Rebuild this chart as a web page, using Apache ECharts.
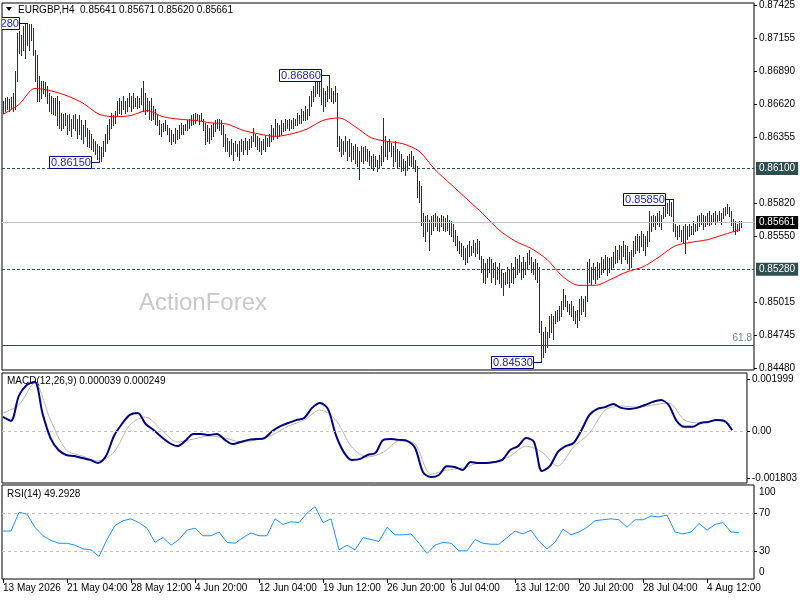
<!DOCTYPE html>
<html><head><meta charset="utf-8">
<script src="https://cdn.jsdelivr.net/npm/echarts@6/dist/echarts.min.js"></script>
<style>html,body{margin:0;padding:0;background:#fff}#c{width:800px;height:600px}</style>
</head><body><div id="c"></div>
<script>
const symbolName = 'EURGBP,H4';
const lastOHLC = ['0.85641', '0.85671', '0.85620', '0.85661'];
const macdHeader = ['0.000039', '0.000249'];
const rsiHeader = '49.2928';

// H4 bars: high / low per bar
const highs = [
0.8665,0.8667,0.8668,0.8666,0.8668,0.8671,0.8689,0.8720,0.8722,0.8718,
0.8726,0.8727,0.8728,0.8727,0.8727,0.8724,0.8706,0.8702,0.8685,0.8681,
0.8681,0.8680,0.8677,0.8671,0.8669,0.8667,0.8667,0.8669,0.8665,0.8655,
0.8654,0.8655,0.8653,0.8654,0.8650,0.8653,0.8654,0.8650,0.8653,0.8649,
0.8645,0.8649,0.8643,0.8641,0.8638,0.8634,0.8632,0.8630,0.8628,0.8627,
0.8632,0.8638,0.8645,0.8650,0.8655,0.8653,0.8657,0.8665,0.8667,0.8665,
0.8669,0.8665,0.8667,0.8671,0.8669,0.8671,0.8667,0.8669,0.8667,0.8675,
0.8681,0.8671,0.8667,0.8665,0.8667,0.8661,0.8658,0.8653,0.8649,0.8646,
0.8647,0.8649,0.8645,0.8643,0.8641,0.8638,0.8643,0.8641,0.8645,0.8647,
0.8645,0.8646,0.8649,0.8650,0.8653,0.8654,0.8655,0.8654,0.8653,0.8655,
0.8650,0.8647,0.8645,0.8643,0.8645,0.8647,0.8649,0.8650,0.8650,0.8649,
0.8645,0.8638,0.8635,0.8632,0.8634,0.8631,0.8632,0.8630,0.8632,0.8634,
0.8632,0.8635,0.8632,0.8634,0.8636,0.8643,0.8638,0.8636,0.8635,0.8632,
0.8634,0.8636,0.8635,0.8638,0.8645,0.8643,0.8650,0.8647,0.8645,0.8649,
0.8647,0.8650,0.8649,0.8650,0.8649,0.8651,0.8650,0.8655,0.8653,0.8658,
0.8657,0.8661,0.8658,0.8669,0.8673,0.8677,0.8681,0.8684,0.8685,0.8681,
0.8675,0.8673,0.8677,0.8686,0.8675,0.8673,0.8677,0.8671,0.8636,0.8634,
0.8632,0.8636,0.8632,0.8634,0.8631,0.8628,0.8630,0.8627,0.8624,0.8628,
0.8627,0.8628,0.8626,0.8624,0.8620,0.8622,0.8620,0.8617,0.8621,0.8628,
0.8651,0.8636,0.8632,0.8634,0.8631,0.8628,0.8632,0.8626,0.8624,0.8622,
0.8618,0.8616,0.8620,0.8622,0.8624,0.8620,0.8617,0.8612,0.8600,0.8596,
0.8574,0.8571,0.8572,0.8568,0.8571,0.8572,0.8574,0.8571,0.8570,0.8572,
0.8571,0.8570,0.8572,0.8568,0.8567,0.8565,0.8560,0.8555,0.8551,0.8549,
0.8547,0.8545,0.8548,0.8551,0.8547,0.8552,0.8549,0.8553,0.8551,0.8539,
0.8536,0.8533,0.8536,0.8538,0.8536,0.8533,0.8534,0.8530,0.8533,0.8528,
0.8525,0.8526,0.8530,0.8528,0.8533,0.8530,0.8538,0.8536,0.8540,0.8534,
0.8538,0.8534,0.8541,0.8544,0.8538,0.8534,0.8536,0.8533,0.8530,0.8486,
0.8477,0.8481,0.8477,0.8490,0.8492,0.8490,0.8494,0.8495,0.8498,0.8502,
0.8512,0.8507,0.8502,0.8500,0.8502,0.8498,0.8494,0.8495,0.8504,0.8506,
0.8504,0.8506,0.8534,0.8536,0.8530,0.8533,0.8530,0.8534,0.8533,0.8538,
0.8536,0.8540,0.8538,0.8537,0.8538,0.8542,0.8547,0.8544,0.8548,0.8547,
0.8551,0.8548,0.8547,0.8542,0.8544,0.8551,0.8555,0.8557,0.8555,0.8559,
0.8557,0.8555,0.8559,0.8575,0.8571,0.8572,0.8571,0.8574,0.8575,0.8572,
0.8579,0.8583,0.8582,0.8584,0.8583,0.8585,0.8565,0.8563,0.8564,0.8560,
0.8563,0.8565,0.8563,0.8565,0.8563,0.8567,0.8565,0.8571,0.8572,0.8574,
0.8572,0.8571,0.8574,0.8575,0.8572,0.8574,0.8575,0.8572,0.8575,0.8574,
0.8578,0.8579,0.8581,0.8579,0.8575,0.8569,0.8567,0.8565,0.8567,0.85671
];
const lows = [
0.8655,0.8657,0.8658,0.8657,0.8659,0.8657,0.8658,0.8681,0.8704,0.8702,
0.8706,0.8700,0.8710,0.8706,0.8714,0.8702,0.8681,0.8665,0.8665,0.8667,
0.8671,0.8669,0.8663,0.8657,0.8655,0.8654,0.8653,0.8645,0.8643,0.8641,
0.8643,0.8645,0.8638,0.8641,0.8636,0.8643,0.8641,0.8635,0.8638,0.8634,
0.8631,0.8636,0.8628,0.8627,0.8626,0.8624,0.8622,0.8618,0.8615,0.8616,
0.8620,0.8624,0.8631,0.8634,0.8643,0.8645,0.8647,0.8653,0.8655,0.8654,
0.8658,0.8655,0.8657,0.8661,0.8657,0.8659,0.8661,0.8659,0.8660,0.8662,
0.8657,0.8654,0.8657,0.8650,0.8649,0.8650,0.8646,0.8645,0.8638,0.8636,
0.8640,0.8641,0.8638,0.8632,0.8630,0.8632,0.8631,0.8634,0.8635,0.8638,
0.8638,0.8641,0.8641,0.8643,0.8645,0.8646,0.8647,0.8649,0.8646,0.8649,
0.8641,0.8630,0.8632,0.8631,0.8634,0.8636,0.8640,0.8643,0.8641,0.8638,
0.8628,0.8624,0.8624,0.8620,0.8622,0.8617,0.8624,0.8620,0.8617,0.8624,
0.8622,0.8626,0.8622,0.8626,0.8627,0.8632,0.8628,0.8626,0.8624,0.8622,
0.8626,0.8624,0.8628,0.8628,0.8632,0.8634,0.8636,0.8635,0.8636,0.8638,
0.8640,0.8641,0.8643,0.8641,0.8643,0.8643,0.8645,0.8645,0.8647,0.8647,
0.8649,0.8649,0.8650,0.8653,0.8661,0.8665,0.8669,0.8671,0.8669,0.8662,
0.8657,0.8661,0.8665,0.8667,0.8665,0.8663,0.8665,0.8628,0.8624,0.8620,
0.8622,0.8624,0.8617,0.8620,0.8616,0.8618,0.8614,0.8612,0.8601,0.8616,
0.8614,0.8617,0.8616,0.8613,0.8610,0.8609,0.8612,0.8608,0.8610,0.8613,
0.8616,0.8620,0.8618,0.8624,0.8620,0.8612,0.8616,0.8610,0.8612,0.8608,
0.8609,0.8605,0.8609,0.8613,0.8612,0.8610,0.8608,0.8587,0.8583,0.8564,
0.8555,0.8551,0.8559,0.8544,0.8557,0.8560,0.8563,0.8560,0.8559,0.8563,
0.8560,0.8559,0.8560,0.8557,0.8555,0.8551,0.8548,0.8544,0.8541,0.8539,
0.8536,0.8532,0.8534,0.8539,0.8540,0.8542,0.8539,0.8541,0.8536,0.8526,
0.8518,0.8517,0.8522,0.8526,0.8518,0.8522,0.8516,0.8520,0.8517,0.8514,
0.8507,0.8516,0.8517,0.8514,0.8518,0.8517,0.8522,0.8524,0.8526,0.8520,
0.8522,0.8524,0.8528,0.8532,0.8526,0.8524,0.8520,0.8518,0.8477,0.8453,
0.8457,0.8461,0.8465,0.8473,0.8477,0.8471,0.8484,0.8486,0.8487,0.8490,
0.8496,0.8498,0.8494,0.8492,0.8490,0.8487,0.8484,0.8481,0.8487,0.8492,
0.8494,0.8490,0.8502,0.8518,0.8516,0.8520,0.8517,0.8520,0.8522,0.8524,
0.8526,0.8528,0.8523,0.8526,0.8528,0.8530,0.8533,0.8534,0.8536,0.8533,
0.8539,0.8536,0.8533,0.8528,0.8530,0.8539,0.8541,0.8544,0.8542,0.8547,
0.8544,0.8540,0.8547,0.8551,0.8559,0.8563,0.8561,0.8565,0.8563,0.8561,
0.8570,0.8571,0.8574,0.8572,0.8571,0.8559,0.8555,0.8553,0.8555,0.8551,
0.8549,0.8541,0.8553,0.8555,0.8557,0.8557,0.8559,0.8560,0.8563,0.8565,
0.8561,0.8563,0.8565,0.8564,0.8565,0.8567,0.8565,0.8567,0.8568,0.8565,
0.8570,0.8572,0.8574,0.8571,0.8564,0.8559,0.8557,0.8559,0.8560,0.8562
];

// moving average, read every 8 bars
const maEvery = 8;
const maValues = [
0.8654,0.8662,0.8675,0.8673,0.8669,0.8663,0.8654,0.8652,0.8653,0.8657,
0.8652,0.8650,0.8649,0.8647,0.8646,0.8641,0.8638,0.8636,0.8638,0.8642,
0.8649,0.8651,0.8644,0.8635,0.8632,0.8630,0.8624,0.8609,0.8597,0.8585,
0.8573,0.8560,0.8551,0.8545,0.8536,0.8522,0.8515,0.8515,0.8520,0.8526,
0.8530,0.8538,0.8547,0.8550,0.8552,0.8556,0.8560
];

// MACD main, read every 4 bars
const macdEvery = 4;
const macdMain = [
0.00055,0.00040,0.00136,0.00178,0.00190,0.00067,-0.00026,-0.00072,-0.00091,-0.00095,
-0.00103,-0.00110,-0.00122,-0.00095,-0.00018,0.00028,0.00063,0.00070,0.00028,0.00005,
-0.00022,-0.00045,-0.00057,-0.00037,-0.00010,-0.00010,-0.00014,-0.00010,-0.00033,-0.00049,
-0.00041,-0.00033,-0.00030,-0.00026,0.00001,0.00020,0.00032,0.00043,0.00051,0.00090,
0.00109,0.00086,-0.00014,-0.00080,-0.00110,-0.00107,-0.00091,-0.00083,-0.00033,-0.00030,
-0.00033,-0.00037,-0.00064,-0.00157,-0.00176,-0.00168,-0.00134,-0.00137,-0.00149,-0.00118,
-0.00122,-0.00122,-0.00118,-0.00110,-0.00072,-0.00057,-0.00026,-0.00041,-0.00153,-0.00134,
-0.00080,-0.00057,-0.00045,0.00005,0.00063,0.00086,0.00093,0.00105,0.00090,0.00086,
0.00090,0.00101,0.00113,0.00120,0.00101,0.00040,0.00017,0.00017,0.00032,0.00036,
0.00043,0.00040,0.00004
];
// MACD signal, read every 8 bars
const signalEvery = 8;
const macdSignal = [
0.00070,0.00101,0.00186,0.00043,-0.00072,-0.00095,-0.00114,-0.00080,0.00024,0.00055,
0.00005,-0.00041,-0.00030,-0.00018,-0.00026,-0.00041,-0.00033,-0.00014,0.00020,0.00043,
0.00082,0.00043,-0.00060,-0.00099,-0.00080,-0.00037,-0.00049,-0.00165,-0.00149,-0.00141,
-0.00122,-0.00118,-0.00095,-0.00057,-0.00080,-0.00134,-0.00060,-0.00007,0.00082,0.00097,
0.00093,0.00101,0.00109,0.00043,0.00032,0.00043,0.00025
];
// RSI(14), read every 4 bars
const rsiEvery = 4;
const rsiValues = [
51,51,71,69,55,46,41,38,38,36,
32,31,24,42,57,62,64,60,54,39,
44,36,42,52,54,46,46,50,39,38,
44,49,46,46,64,58,61,60,70,77,
60,64,31,36,31,44,42,40,55,47,
47,48,38,27,36,39,38,30,30,42,
38,37,37,44,51,48,52,40,32,39,
53,47,50,55,62,63,64,63,55,63,
63,67,66,68,50,48,50,59,52,58,
60,50,49.29
];

const timeLabels = ['13 May 2026','21 May 04:00','28 May 12:00','4 Jun 20:00','12 Jun 04:00','19 Jun 12:00','26 Jun 20:00','6 Jul 04:00','13 Jul 12:00','20 Jul 20:00','28 Jul 04:00','4 Aug 12:00'];
const labelEvery = 32;
const emptyBarsRight = 6;

const priceTicks = [0.84480,0.84745,0.85015,0.85550,0.85820,0.86355,0.86620,0.86890,0.87155,0.87425];
const macdTicks = [-0.001803, 0, 0.001999];
const rsiTicks = [0, 30, 70, 100];
const rsiLevels = [70, 30];
const levelLines = [0.86100, 0.85280];
const currentPrice = 0.85661;
const fibLevel = 0.8466, fibText = '61.8';

const annIdx = [12, 48, 163, 269, 335];
const annVal = [0.8728, 0.8615, 0.8686, 0.8453, 0.8585];
const annText = ['0.87280', '0.86150', '0.86860', '0.84530', '0.85850'];

// ---------- build ----------
const FONT = '"Liberation Sans", Arial, sans-serif';
const barCount = highs.length;
const cats = Array.from({length: barCount + emptyBarsRight}, (_, i) => String(i));
const sampled = (arr, step) => arr.map((v, k) => [k * step, v]);

function xAxisFor(gi, withLabels) {
  return {
    type: 'category', gridIndex: gi, data: cats, boundaryGap: true,
    axisLine: {show: false}, splitLine: {show: false},
    axisTick: withLabels ? {show: true, alignWithLabel: true, length: 4,
      interval: (i) => i % labelEvery === 0, lineStyle: {color: '#000'}} : {show: false},
    axisLabel: withLabels ? {show: true, interval: (i) => i % labelEvery === 0,
      formatter: (v) => timeLabels[Number(v) / labelEvery] || '',
      align: 'left', margin: 4, color: '#000', fontSize: 10, fontFamily: FONT} : {show: false}
  };
}
const gridStyle = {show: true, borderColor: '#000', borderWidth: 1, backgroundColor: 'transparent'};
const levelLabel = (txt, bg) => ({show: true, position: 'end', distance: 2, formatter: txt,
  color: '#fff', backgroundColor: bg, padding: [2, 3, 1, 3], fontSize: 10, fontFamily: FONT});

const chart = echarts.init(document.getElementById('c'), null, {renderer: 'canvas'});
chart.setOption({
  animation: false,
  textStyle: {fontFamily: FONT},
  grid: [
    Object.assign({left: 2, top: 3, width: 752, height: 367}, gridStyle),
    Object.assign({left: 2, top: 373, width: 752, height: 110}, gridStyle),
    Object.assign({left: 2, top: 485, width: 752, height: 94}, gridStyle)
  ],
  xAxis: [xAxisFor(0, false), xAxisFor(1, false), xAxisFor(2, true)],
  yAxis: [
    {type: 'value', gridIndex: 0, position: 'right', min: 0.84462, max: 0.87444,
      splitLine: {show: false}, axisLine: {show: false},
      axisTick: {show: true, length: 3, customValues: priceTicks, lineStyle: {color: '#000'}},
      axisLabel: {customValues: priceTicks, formatter: (v) => v.toFixed(5), margin: 5, color: '#000', fontSize: 10, fontFamily: FONT}},
    {type: 'value', gridIndex: 1, position: 'right', min: -0.001988, max: 0.002241,
      splitLine: {show: false}, axisLine: {show: false},
      axisTick: {show: true, length: 3, customValues: macdTicks, lineStyle: {color: '#000'}},
      axisLabel: {customValues: macdTicks, formatter: (v) => v === 0 ? '0.00' : v.toFixed(6), margin: 5, color: '#000', fontSize: 10, fontFamily: FONT}},
    {type: 'value', gridIndex: 2, position: 'right', min: 0, max: 100,
      splitLine: {show: false}, axisLine: {show: false},
      axisTick: {show: true, length: 3, customValues: [30, 70], lineStyle: {color: '#000'}},
      axisLabel: {customValues: rsiTicks, margin: 5, color: '#000', fontSize: 10, fontFamily: FONT,
        formatter: (v) => v === 100 ? '{t|100}' : (v === 0 ? '{b|0}' : String(v)),
        rich: {t: {padding: [14, 0, 0, 0], fontSize: 10, color: '#000'}, b: {padding: [0, 0, 14, 0], fontSize: 10, color: '#000'}}}}
  ],
  graphic: [
    {type: 'text', x: 203, y: 303, z: -10, style: {text: 'ActionForex', align: 'center', verticalAlign: 'middle', font: '24px ' + FONT, fill: '#c8c8c8'}},
    {type: 'polygon', shape: {points: [[6, 7], [12, 7], [9, 11]]}, style: {fill: '#000'}},
    {type: 'text', x: 18, y: 5, style: {text: symbolName + '  ' + lastOHLC.join(' '), font: '10px ' + FONT, fill: '#000'}},
    {type: 'text', x: 7, y: 376, style: {text: 'MACD(12,26,9) ' + macdHeader.join(' '), font: '10px ' + FONT, fill: '#000'}},
    {type: 'text', x: 7, y: 489, style: {text: 'RSI(14) ' + rsiHeader, font: '10px ' + FONT, fill: '#000'}}
  ],
  series: [
    {
      name: 'bars', type: 'custom', xAxisIndex: 0, yAxisIndex: 0, z: 3, clip: true,
      data: highs.map((h, i) => [i, h, lows[i]]),
      encode: {x: 0, y: [1, 2]},
      renderItem: (params, api) => {
        const hi = api.coord([api.value(0), api.value(1)]);
        const lo = api.coord([api.value(0), api.value(2)]);
        const x = Math.round(hi[0]) + 0.5;
        return {type: 'line', shape: {x1: x, y1: Math.round(hi[1]), x2: x, y2: Math.round(lo[1]) + 1}, style: {stroke: '#0b3656', lineWidth: 1}};
      }
    },
    {
      name: 'MA', type: 'line', xAxisIndex: 0, yAxisIndex: 0, z: 4, data: sampled(maValues, maEvery),
      showSymbol: false, smooth: 0.3, lineStyle: {color: '#ff0000', width: 1},
      markLine: {
        symbol: 'none', silent: true, animation: false, precision: 5,
        data: [
          {yAxis: levelLines[0], lineStyle: {color: '#2f4f4f', type: [3, 2], width: 1}, label: levelLabel(levelLines[0].toFixed(5), '#2f4f4f')},
          {yAxis: levelLines[1], lineStyle: {color: '#2f4f4f', type: [3, 2], width: 1}, label: levelLabel(levelLines[1].toFixed(5), '#2f4f4f')},
          {yAxis: currentPrice, lineStyle: {color: '#c0c0c0', type: 'solid', width: 1}, label: levelLabel(currentPrice.toFixed(5), '#000')},
          {yAxis: fibLevel, lineStyle: {color: '#2f4f4f', type: 'solid', width: 1},
            label: {show: true, position: 'insideEndTop', formatter: fibText, color: '#708090', fontSize: 10, fontFamily: FONT, distance: 2}}
        ]
      }
    },
    {
      name: 'labels', type: 'custom', xAxisIndex: 0, yAxisIndex: 0, z: 6, clip: true,
      data: annIdx.map((i, k) => [i, annVal[k]]),
      encode: {x: 0, y: 1},
      renderItem: (params, api) => {
        const p = api.coord([api.value(0), api.value(1)]);
        const w = 42, h = 12, gap = 8;
        const px = Math.round(p[0]), py = Math.round(p[1]);
        const bx = px - gap - w, by = py - h / 2;
        return {type: 'group', children: [
          {type: 'line', shape: {x1: bx + w, y1: py + 0.5, x2: px + 0.5, y2: py + 0.5}, style: {stroke: '#00008b', lineWidth: 1}},
          {type: 'rect', shape: {x: bx + 0.5, y: by + 0.5, width: w, height: h}, style: {fill: '#fff', stroke: '#00008b', lineWidth: 1}},
          {type: 'text', style: {text: annText[params.dataIndex], x: bx + w / 2 + 1, y: py + 1, align: 'center', verticalAlign: 'middle',
            textAlign: 'center', textVerticalAlign: 'middle', fill: '#2222aa', font: '11px ' + FONT}}
        ]};
      }
    },
    {
      name: 'MACD signal', type: 'line', xAxisIndex: 1, yAxisIndex: 1, z: 3, data: sampled(macdSignal, signalEvery),
      showSymbol: false, smooth: 0.3, lineStyle: {color: '#b4b4b4', width: 1},
      markLine: {symbol: 'none', silent: true, label: {show: false},
        lineStyle: {color: '#c0c0c0', type: [3, 3], width: 1}, data: [{yAxis: 0}]}
    },
    {
      name: 'MACD', type: 'line', xAxisIndex: 1, yAxisIndex: 1, z: 4, data: sampled(macdMain, macdEvery),
      showSymbol: false, smooth: 0.3, lineStyle: {color: '#000080', width: 2}
    },
    {
      name: 'RSI', type: 'line', xAxisIndex: 2, yAxisIndex: 2, z: 4, data: sampled(rsiValues, rsiEvery),
      showSymbol: false, lineStyle: {color: '#1e90ff', width: 1},
      markLine: {symbol: 'none', silent: true, label: {show: false},
        lineStyle: {color: '#c0c0c0', type: [3, 3], width: 1}, data: rsiLevels.map((v) => ({yAxis: v}))}
    }
  ]
});
</script>
</body></html>
